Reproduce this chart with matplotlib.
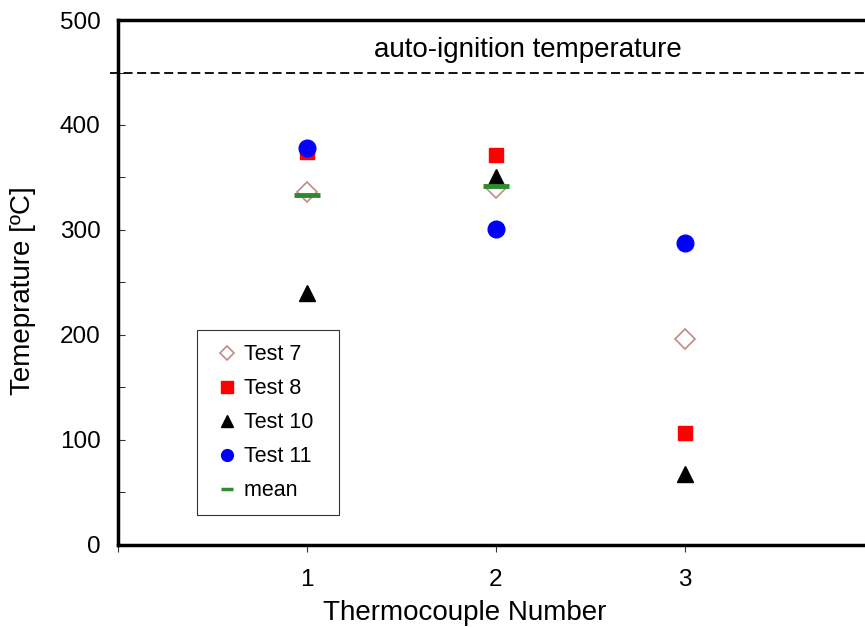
import matplotlib
matplotlib.use("Agg")
import matplotlib.pyplot as plt
from matplotlib.ticker import MultipleLocator

plt.rcParams['font.family'] = ['Liberation Sans', 'DejaVu Sans']

# thermocouple positions and readings
thermocouples = [1, 2, 3]
test7 = [336, 340, 196]
test8 = [374, 371, 107]
test10 = [240, 350, 68]
test11 = [378, 301, 288]
mean_x = [1, 2]
mean_vals = [333, 342]
auto_ignition = 450
xtick_pos = [0, 1, 2, 3, 4]
xtick_labels = ['', '1', '2', '3', '']

fig = plt.figure(figsize=(8.65, 6.27), dpi=100)
ax = fig.add_axes([0.1364, 0.1308, 0.874, 0.8373])

ax.plot(thermocouples, test7, linestyle='none', marker='D', markersize=10,
        markerfacecolor='white', markeredgecolor='#c08a86', markeredgewidth=1.2, label='Test 7')
ax.plot(thermocouples, test8, linestyle='none', marker='s', markersize=10,
        color='#ff0000', label='Test 8')
ax.plot(thermocouples, test10, linestyle='none', marker='^', markersize=11,
        color='black', label='Test 10')
ax.plot(thermocouples, test11, linestyle='none', marker='o', markersize=12,
        color='#0000ff', label='Test 11')
ax.plot(mean_x, mean_vals, linestyle='none', marker='_', markersize=19,
        markeredgewidth=3.5, color='#2f8a2f', label='mean')

# auto-ignition line
ax.plot([-0.04, 4], [auto_ignition, auto_ignition], linestyle=(0, (5, 2.5)),
        color='black', linewidth=1.3, clip_on=False)
ax.text(2.17, 471, 'auto-ignition temperature', ha='center', va='center', fontsize=20)

ax.set_xlim(0, 4)
ax.set_ylim(0, 500)
ax.set_xticks(xtick_pos)
ax.set_xticklabels(xtick_labels)
ax.set_yticks(range(0, 501, 100))
ax.yaxis.set_minor_locator(MultipleLocator(50))
ax.tick_params(axis='both', labelsize=17.5, width=0.8, color='#333333')
ax.tick_params(axis='x', direction='out', length=5, pad=12)
ax.tick_params(axis='y', which='both', direction='in', length=5, pad=12.5)
for s in ax.spines.values():
    s.set_linewidth(2.5)

ax.set_xlabel('Thermocouple Number', fontsize=20)
ax.set_ylabel('Temeprature [ºC]', fontsize=20)
ax.xaxis.set_label_coords(0.459, -0.105)
ax.yaxis.set_label_coords(-0.108, 0.484)

leg = ax.legend(loc='lower left', bbox_to_anchor=(0.104, 0.057), fontsize=15.5,
                frameon=True, fancybox=False, edgecolor='black', handlelength=1.5,
                handletextpad=0.05, labelspacing=0.6, borderpad=0.65,
                borderaxespad=0)
leg.get_frame().set_linewidth(0.8)
for h, ms in zip(leg.legend_handles, [7, 8.5, 8.5, 8.5, 9]):
    h.set_markersize(ms)
leg.legend_handles[-1].set_markeredgewidth(2.5)
# leave room on the right of the entries like the reference box
for t in leg.get_texts():
    t.set_text(t.get_text() + '  ')

fig.savefig('out.png', dpi=100)
